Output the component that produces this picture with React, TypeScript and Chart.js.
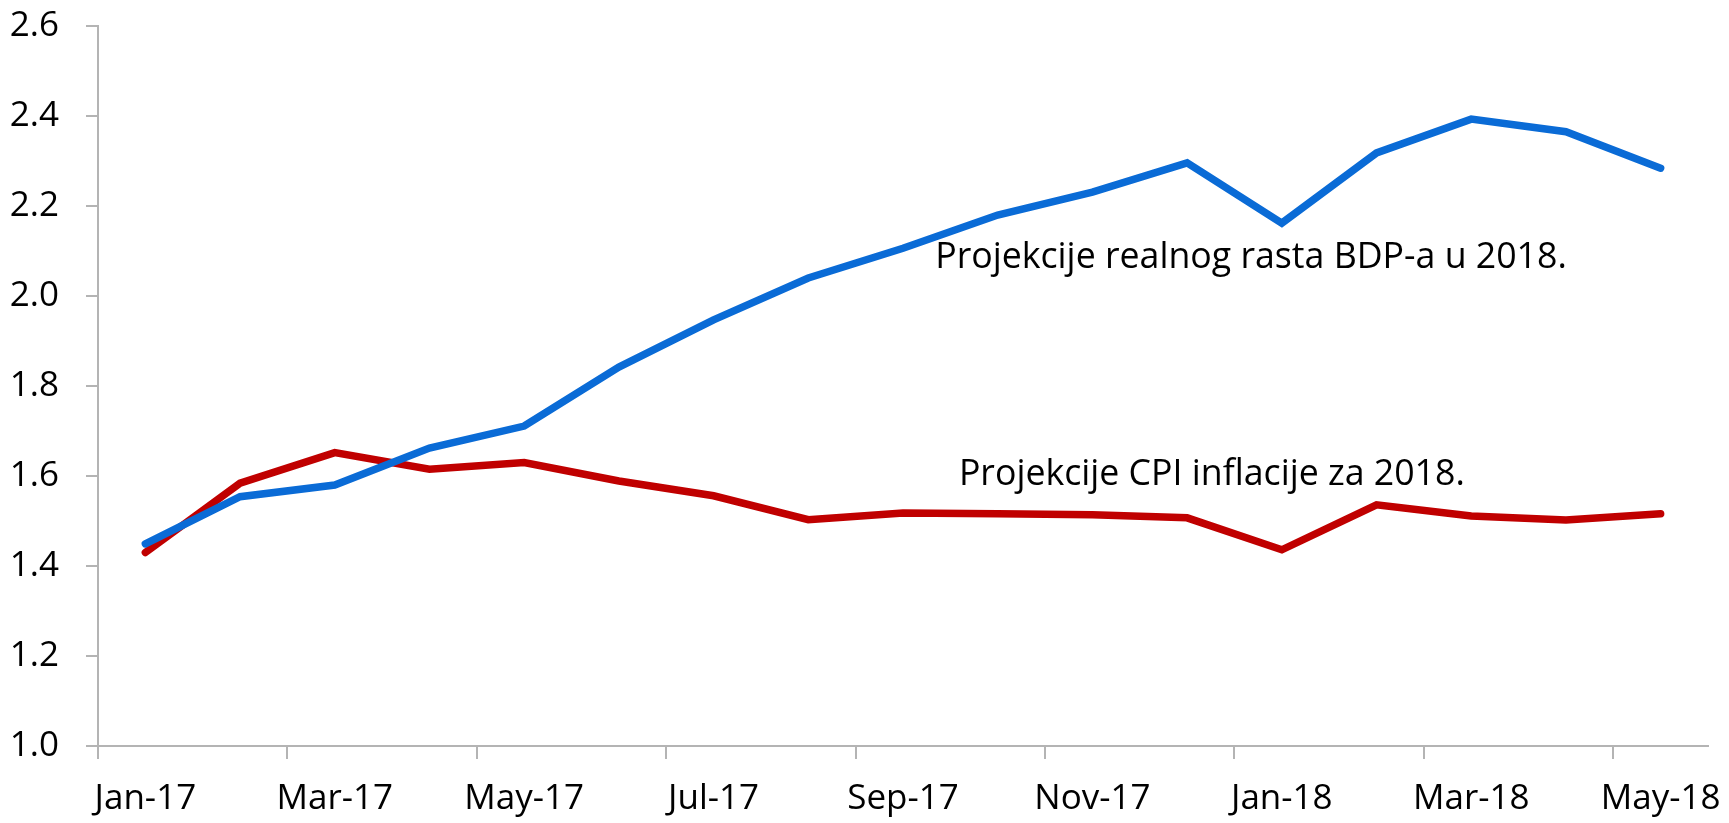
import React, { useEffect, useRef } from "react";
import { Chart, registerables } from "chart.js";

Chart.register(...registerables);

const months = [
  "Jan-17", "Feb-17", "Mar-17", "Apr-17", "May-17", "Jun-17", "Jul-17", "Aug-17",
  "Sep-17", "Oct-17", "Nov-17", "Dec-17", "Jan-18", "Feb-18", "Mar-18", "Apr-18", "May-18",
];

const gdpProjection = [
  1.449, 1.554, 1.58, 1.662, 1.711, 1.842, 1.947, 2.04, 2.106, 2.18, 2.231, 2.296,
  2.162, 2.318, 2.393, 2.365, 2.284,
];

const cpiProjection = [
  1.43, 1.584, 1.652, 1.615, 1.63, 1.589, 1.556, 1.503, 1.518, 1.516, 1.514, 1.507,
  1.436, 1.536, 1.511, 1.502, 1.516,
];

const yTicks = [1.0, 1.2, 1.4, 1.6, 1.8, 2.0, 2.2, 2.4, 2.6];

const gdpLabel = "Projekcije realnog rasta BDP-a u 2018.";
const cpiLabel = "Projekcije CPI inflacije za 2018.";

// label anchors in data space: [category index, value]
const gdpLabelAnchor = [8.34, 2.063];
const cpiLabelAnchor = [8.59, 1.58];

const FONT = "'Open Sans', 'Noto Sans', sans-serif";

const labelPlugin = {
  id: "seriesLabels",
  afterDatasetsDraw(chart: any) {
    const { ctx, scales } = chart;
    const x = scales.x;
    const y = scales.y;
    ctx.save();
    ctx.fillStyle = "#000000";
    ctx.font = `35.7px ${FONT}`;
    ctx.textAlign = "left";
    ctx.textBaseline = "alphabetic";
    ctx.fillText(gdpLabel, x.getPixelForValue(gdpLabelAnchor[0]), y.getPixelForValue(gdpLabelAnchor[1]));
    ctx.fillText(cpiLabel, x.getPixelForValue(cpiLabelAnchor[0]), y.getPixelForValue(cpiLabelAnchor[1]));
    ctx.restore();
  },
};

export default function App() {
  const canvasRef = useRef<HTMLCanvasElement | null>(null);

  useEffect(() => {
    if (!canvasRef.current) return;
    const axisGray = "#b4b4b4";
    const chart = new Chart(canvasRef.current, {
      type: "line",
      data: {
        labels: months,
        datasets: [
          {
            label: gdpLabel,
            data: gdpProjection,
            borderColor: "#0A6BD6",
            borderWidth: 7.5,
            pointRadius: 0,
            tension: 0,
            borderCapStyle: "round",
            borderJoinStyle: "miter",
            fill: false,
          },
          {
            label: cpiLabel,
            data: cpiProjection,
            borderColor: "#C00000",
            borderWidth: 7.5,
            pointRadius: 0,
            tension: 0,
            borderCapStyle: "round",
            borderJoinStyle: "miter",
            fill: false,
          },
        ],
      },
      options: {
        animation: false,
        responsive: true,
        maintainAspectRatio: false,
        layout: { padding: { top: 26, right: 21, left: 0, bottom: 0 } },
        plugins: {
          legend: { display: false },
          tooltip: { enabled: false },
        },
        scales: {
          x: {
            type: "category",
            offset: true,
            grid: {
              offset: true,
              drawOnChartArea: false,
              drawTicks: true,
              tickLength: 13,
              lineWidth: 2,
              tickColor: (c: any) => (c.index % 2 === 0 ? axisGray : "rgba(0,0,0,0)"),
              color: (c: any) => (c.index % 2 === 0 ? axisGray : "rgba(0,0,0,0)"),
            },
            border: { display: true, color: axisGray, width: 2 },
            ticks: {
              autoSkip: false,
              maxRotation: 0,
              minRotation: 0,
              padding: 19,
              color: "#000000",
              font: { family: FONT, size: 35 },
              callback: (_v: any, i: number) => (i % 2 === 0 ? months[i] : ""),
            },
            afterFit: (s: any) => {
              s.height = 77;
              s.paddingLeft = 0;
              s.paddingRight = 0;
            },
          },
          y: {
            min: 1.0,
            max: 2.6,
            afterBuildTicks: (s: any) => {
              s.ticks = yTicks.map((v) => ({ value: v }));
            },
            grid: {
              drawOnChartArea: false,
              drawTicks: true,
              tickLength: 12,
              lineWidth: 2,
              color: axisGray,
            },
            border: { display: true, color: axisGray, width: 2 },
            ticks: {
              padding: 27,
              color: "#000000",
              font: { family: FONT, size: 35 },
              callback: (v: any) => Number(v).toFixed(1),
            },
            afterFit: (s: any) => {
              s.width = 98;
              s.paddingTop = 0;
              s.paddingBottom = 0;
            },
          },
        },
      },
      plugins: [labelPlugin],
    });
    return () => chart.destroy();
  }, []);

  return (
    <div style={{ position: "absolute", left: 0, top: 0, width: 1729, height: 823, background: "#fff" }}>
      <canvas ref={canvasRef} />
    </div>
  );
}
